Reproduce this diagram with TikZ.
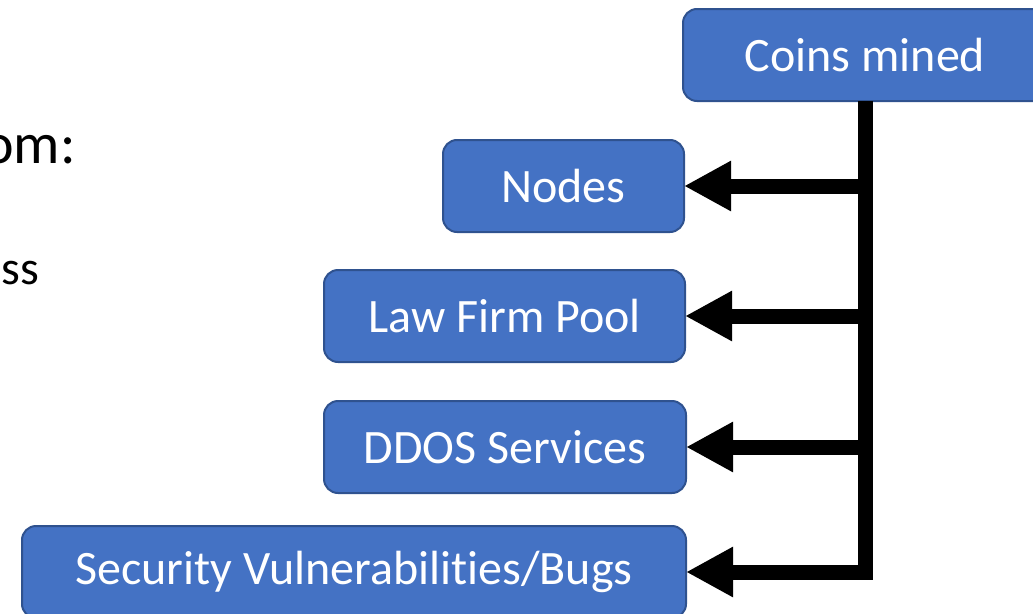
\documentclass[tikz,border=0pt]{standalone}
\usepackage{fontspec}
\setmainfont[Ligatures=NoCommon]{Carlito}
\usetikzlibrary{arrows.meta}
\definecolor{boxblue}{HTML}{4472C4}
\definecolor{boxedge}{HTML}{2F528F}
\tikzset{
  bluebox/.style={draw=boxedge, fill=boxblue, line width=2pt, rounded corners=14pt,
    text=white, font=\fontsize{48}{56}\selectfont, minimum height=92pt,
    inner sep=0pt, outer sep=0pt, anchor=center},
  conn/.style={line width=15pt, line join=miter, draw=black},
  arr/.style={conn, -{Triangle[length=47pt,width=47pt]}}
}
\begin{document}
\begin{tikzpicture}[x=1pt,y=-1pt]
\useasboundingbox (0,0) rectangle (1033,613);
\node[anchor=base east, inner sep=0pt, font=\fontsize{58}{66}\selectfont] (t1) at (76,163) {om:};
\node[anchor=base east, inner sep=0pt, font=\fontsize{48}{56}\selectfont] (t2) at (39,284) {ss};
\node[bluebox, minimum width=364pt] (coins) at (865,55) {Coins mined};
\node[bluebox, minimum width=241pt] (nodes) at (563.5,186) {Nodes};
\node[bluebox, minimum width=361pt] (law) at (504.5,316) {Law Firm Pool};
\node[bluebox, minimum width=362pt] (ddos) at (505,447) {DDOS Services};
\node[bluebox, minimum width=664pt] (sec) at (354,572) {Security Vulnerabilities/Bugs};
\draw[arr] (coins.south) -- (coins.south |- sec.east) -- (sec.east);
\draw[arr] (coins.south |- nodes.east) -- (nodes.east);
\draw[arr] (coins.south |- law.east) -- (law.east);
\draw[arr] (coins.south |- ddos.east) -- (ddos.east);
\end{tikzpicture}
\end{document}
